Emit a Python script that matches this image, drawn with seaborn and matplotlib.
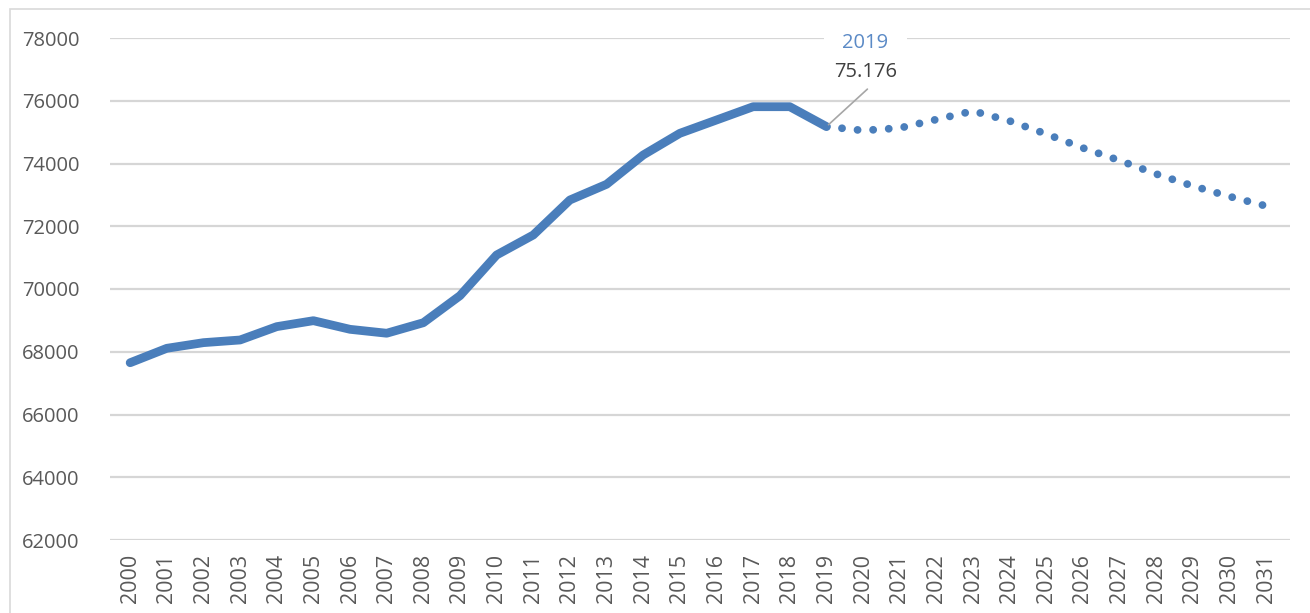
import pandas as pd
import matplotlib.pyplot as plt
import seaborn as sns
from matplotlib.patches import Rectangle

# historiske værdier (fuld linje) og fremskrivning (prikket linje)
aar_hist = list(range(2000, 2020))
vaerdi_hist = [67650, 68110, 68290, 68375, 68800, 68990, 68715, 68590, 68925, 69787,
               71084, 71721, 72837, 73337, 74271, 74962, 75386, 75810, 75810, 75176]
aar_prog = list(range(2019, 2032))
vaerdi_prog = [75176, 75052, 75131, 75402, 75673, 75355, 74940, 74494, 74096, 73665,
               73283, 72948, 72645]
y_ticks = [62000, 64000, 66000, 68000, 70000, 72000, 74000, 76000, 78000]

BLAA = "#4A7EBB"
GRAA_TXT = "#595959"

df_hist = pd.DataFrame({"aar": aar_hist, "vaerdi": vaerdi_hist})
df_prog = pd.DataFrame({"aar": aar_prog, "vaerdi": vaerdi_prog})

sns.set_theme(style="white")
plt.rcParams["font.family"] = ["Open Sans", "DejaVu Sans"]

fig = plt.figure(figsize=(13.1, 6.13), dpi=100)
ax = fig.add_axes([110 / 1310, 1 - 540 / 613, 1180 / 1310, (540 - 38) / 613])

# ramme om diagrammet
fig.patches.append(Rectangle((10 / 1310, -0.1), 1.2, 1 - 9 / 613 + 0.1,
                             transform=fig.transFigure, fill=False,
                             edgecolor="#D9D9D9", linewidth=1.2))

sns.lineplot(data=df_hist, x="aar", y="vaerdi", ax=ax, color=BLAA, linewidth=6.3,
             solid_capstyle="round", solid_joinstyle="round", zorder=3)
sns.lineplot(data=df_prog, x="aar", y="vaerdi", ax=ax, color=BLAA, linewidth=5.6,
             linestyle=(0, (0.01, 2.0)), dash_capstyle="round", zorder=3)

ax.set_ylim(62000, 78000)
ax.set_xlim(1999.45, 2031.65)
ax.set_yticks(y_ticks)
ax.set_yticklabels([str(v) for v in y_ticks], fontsize=14.5, color=GRAA_TXT)
alle_aar = aar_hist + aar_prog[1:]
ax.set_xticks(alle_aar)
ax.set_xticklabels([str(a) for a in alle_aar], rotation=90,
                   fontsize=15.5, color=GRAA_TXT)
ax.tick_params(axis="both", length=0)
ax.tick_params(axis="y", pad=22)
ax.tick_params(axis="x", pad=10)
ax.set_xlabel("")
ax.set_ylabel("")
ax.yaxis.grid(True, color="#D6D6D6", linewidth=1.6)
ax.xaxis.grid(False)
ax.set_axisbelow(True)
sns.despine(ax=ax, left=True, bottom=True)

# dataetiket for 2019
ax.annotate("", xy=(2019, 75176), xytext=(29.5, 27), textcoords="offset points",
            arrowprops=dict(arrowstyle="-", color="#A6A6A6", linewidth=1.2,
                            shrinkA=0, shrinkB=2))
ax.annotate("2019", xy=(2019, 75176), xytext=(28, 60), textcoords="offset points",
            ha="center", va="center", fontsize=14.5, color="#5B8AC6", zorder=5,
            bbox=dict(boxstyle="square,pad=0.9", fc="white", ec="none"))
ax.annotate("75.176", xy=(2019, 75176), xytext=(28, 39), textcoords="offset points",
            ha="center", va="center", fontsize=14.5, color="#404040", zorder=6)

fig.savefig("out.png", dpi=100)
